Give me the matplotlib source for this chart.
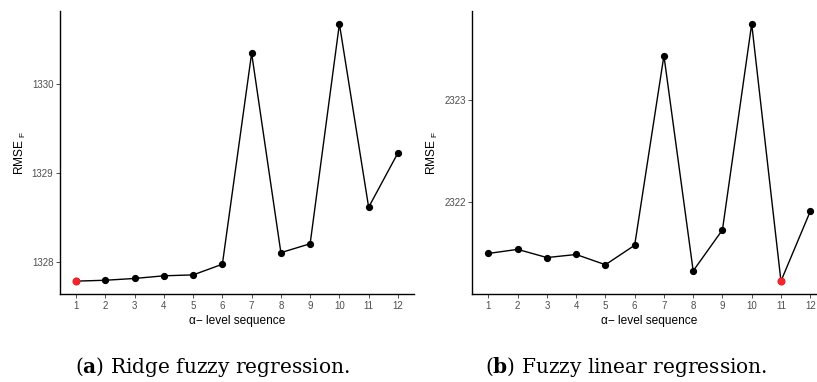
import numpy as np
import matplotlib.pyplot as plt

plt.rcParams['font.family'] = ['Liberation Sans', 'DejaVu Sans']
plt.rcParams['mathtext.fontset'] = 'custom'
plt.rcParams['mathtext.rm'] = 'Liberation Sans'
plt.rcParams['mathtext.bf'] = 'DejaVu Serif:bold'

# alpha-level sequence
alpha_levels = np.arange(1, 13)

# RMSE_F values
rmse_ridge = [1327.78, 1327.79, 1327.81, 1327.84, 1327.85, 1327.97,
              1330.34, 1328.10, 1328.20, 1330.67, 1328.61, 1329.22]
rmse_linear = [2321.50, 2321.54, 2321.46, 2321.49, 2321.39, 2321.58,
               2323.43, 2321.33, 2321.73, 2323.74, 2321.23, 2321.91]

ridge_ticks = [1328, 1329, 1330]
linear_ticks = [2322, 2323]

captions = [r'($\mathbf{a}$) Ridge fuzzy regression.',
            r'($\mathbf{b}$) Fuzzy linear regression.']

W, H = 817, 382
fig = plt.figure(figsize=(W / 100, H / 100), dpi=100, facecolor='white')

panels = [
    (60, rmse_ridge, ridge_ticks),
    (472.3, rmse_linear, linear_ticks),
]

for left_px, vals, yt in panels:
    ax = fig.add_axes([left_px / W, 1 - 294 / H, 354 / W, 283 / H])
    vals = np.array(vals)
    rng = vals.max() - vals.min()
    ax.plot(alpha_levels, vals, '-', color='black', lw=1.0, zorder=2)
    ax.plot(alpha_levels, vals, 'o', color='black', ms=4.2, zorder=3)
    i_min = np.argmin(vals)
    ax.plot(alpha_levels[i_min], vals[i_min], 'o', color='#F2262A', ms=4.8, zorder=4)

    ax.set_xlim(0.45, 12.55)
    ax.set_ylim(vals.min() - 0.05 * rng, vals.max() + 0.05 * rng)
    ax.set_xticks(alpha_levels)
    ax.set_yticks(yt)
    ax.tick_params(axis='both', length=2.8, width=0.6, color='#333333',
                   labelcolor='#4D4D4D', labelsize=7, pad=2)
    for s in ['top', 'right']:
        ax.spines[s].set_visible(False)
    for s in ['left', 'bottom']:
        ax.spines[s].set_linewidth(1.0)
        ax.spines[s].set_color('black')
    ax.set_xlabel('\u03b1\u2212 level sequence', fontsize=8.6, labelpad=3)
    ax.set_ylabel(r'RMSE ${}_{\mathrm{F}}$', fontsize=8.6, labelpad=3)

for x, cap in zip([212 / W, 626 / W], captions):
    fig.text(x, 9 / H, cap, ha='center', va='baseline', fontsize=14.5,
             family=['DejaVu Serif'])

fig.savefig('out.png', dpi=100, facecolor='white')
